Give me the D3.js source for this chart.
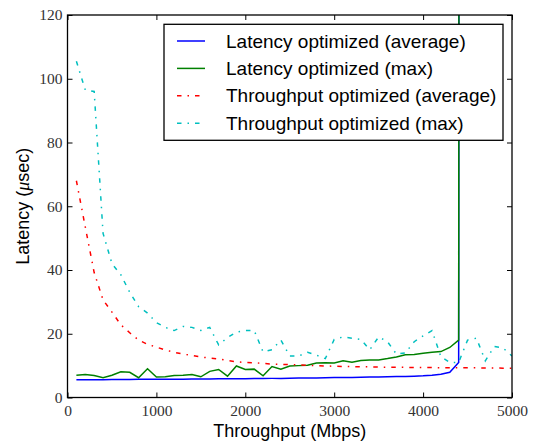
<!DOCTYPE html>
<html>
<head>
<meta charset="utf-8">
<script src="https://cdn.jsdelivr.net/npm/d3@7"></script>
<style>
  body { margin: 0; background: #fff; }
  svg { display: block; }
</style>
</head>
<body>
<div id="main"></div>
<script>
// x values (Mbps) at 100 Mbps steps
var throughputX = d3.range(100, 5001, 100);
var latencyX = d3.range(100, 4401, 100).concat([4410]); // last point is the blow-up past 4400

var latAvg = [5.6, 5.6, 5.6, 5.6, 5.65, 5.65, 5.65, 5.7, 5.7,
    5.7, 5.7, 5.75, 5.75, 5.8, 5.8, 5.8, 5.85, 5.85, 5.9,
    5.9, 5.95, 5.95, 6.0, 6.0, 6.05, 6.1, 6.1, 6.15, 6.2,
    6.25, 6.3, 6.3, 6.35, 6.4, 6.45, 6.5, 6.55, 6.6, 6.7,
    6.8, 7.0, 7.3, 7.9, 11.0, 400];
var latMax = [7.0, 7.2, 6.9, 6.2, 7.0, 8.1, 7.9, 6.2, 9.0,
    6.4, 6.5, 6.9, 7.0, 7.2, 6.5, 8.2, 8.8, 6.7, 9.9,
    8.8, 8.9, 6.8, 9.7, 8.9, 9.9, 10.0, 10.1, 10.8, 10.9,
    10.8, 11.5, 11.1, 11.6, 11.8, 11.8, 12.2, 12.7, 13.4, 13.5,
    13.9, 14.2, 14.4, 15.7, 18.0, 400];
var tputAvg = [68, 53.5, 39.2, 30.6, 26.8, 22.8, 20.3, 18.0, 16.7,
    15.8, 14.9, 14.2, 13.6, 13.2, 12.7, 12.4, 12.1, 11.6, 11.2,
    11.0, 10.9, 10.7, 10.5, 10.4, 10.3, 10.2, 10.1, 10.0, 9.9,
    9.8, 9.75, 9.7, 9.65, 9.6, 9.55, 9.5, 9.5, 9.45, 9.45,
    9.4, 9.4, 9.35, 9.35, 9.3, 9.3, 9.3, 9.25, 9.25, 9.2, 9.2];
var tputMax = [105.5, 96.5, 96, 51.5, 42, 38.5, 33, 28.5, 26.5,
    23.5, 22, 21, 22.3, 22, 21, 22, 16.5, 18.8, 20.5,
    21, 21, 14.3, 15, 18, 13, 13, 14.2, 13.3, 12.2,
    18.2, 19, 18.6, 18.2, 15, 19, 17.5, 13.6, 14, 17.5,
    19.3, 21, 12.8, 11, 11, 18, 18.6, 11.5, 16, 15.5, 13];

var xTicks = [0, 1000, 2000, 3000, 4000, 5000];
var yTicks = [0, 20, 40, 60, 80, 100, 120];

var seriesList = [
    { name: "Latency optimized (average)", xs: latencyX, ys: latAvg, color: "#0000ff", dash: null, width: 1.5 },
    { name: "Latency optimized (max)", xs: latencyX, ys: latMax, color: "#008000", dash: null, width: 1.5 },
    { name: "Throughput optimized (average)", xs: throughputX, ys: tputAvg, color: "#ff0000", dash: "4.5,6,1.5,6", width: 1.5 },
    { name: "Throughput optimized (max)", xs: throughputX, ys: tputMax, color: "#00bfbf", dash: "4.5,6,1.5,6", width: 1.5 }
];

var margin = { top: 15, right: 23, bottom: 47.5, left: 67.5 };
var width = 535 - margin.left - margin.right;
var height = 445 - margin.top - margin.bottom;
var serif = "'Liberation Serif', 'DejaVu Serif', serif";
var sans = "'Liberation Sans', Arial, sans-serif";

var svg = d3.select("#main")
    .append("svg")
    .attr("width", 535)
    .attr("height", 445);
var g = svg.append("g")
    .attr("transform", "translate(" + margin.left + "," + margin.top + ")");

var x = d3.scaleLinear().domain([0, 5000]).range([0, width]);
var y = d3.scaleLinear().domain([0, 120]).range([height, 0]);

g.append("clipPath").attr("id", "plotClip")
    .append("rect").attr("width", width).attr("height", height);

// lines
var line = d3.line()
    .x(function (d) { return x(d[0]); })
    .y(function (d) { return y(d[1]); });

var lines = g.append("g").attr("clip-path", "url(#plotClip)");
seriesList.forEach(function (s) {
    var pts = s.xs.map(function (v, i) { return [v, s.ys[i]]; });
    lines.append("path")
        .attr("d", line(pts))
        .attr("fill", "none")
        .attr("stroke", s.color)
        .attr("stroke-width", s.width)
        .attr("stroke-dasharray", s.dash);
});

// axes, matplotlib classic style: ticks point inwards on all sides
function styleAxis(sel) {
    sel.select(".domain").remove();
    sel.selectAll(".tick line").attr("stroke", "#000").attr("stroke-width", 1);
    sel.selectAll(".tick text").attr("fill", "#333").attr("font-family", serif).attr("font-size", "15.5px");
}

g.append("g")
    .attr("transform", "translate(0," + height + ")")
    .call(d3.axisBottom(x).tickValues(xTicks).tickFormat(d3.format("d")).tickSizeInner(-5).tickSizeOuter(0).tickPadding(7))
    .call(styleAxis);
g.append("g")
    .call(d3.axisLeft(y).tickValues(yTicks).tickFormat(d3.format("d")).tickSizeInner(-5).tickSizeOuter(0).tickPadding(5))
    .call(styleAxis);
g.append("g")
    .call(d3.axisTop(x).tickValues(xTicks).tickSizeInner(-5).tickSizeOuter(0).tickFormat(""))
    .call(styleAxis);
g.append("g")
    .attr("transform", "translate(" + width + ",0)")
    .call(d3.axisRight(y).tickValues(yTicks).tickSizeInner(-5).tickSizeOuter(0).tickFormat(""))
    .call(styleAxis);

g.append("rect")
    .attr("width", width).attr("height", height)
    .attr("fill", "none").attr("stroke", "#000").attr("stroke-width", 1.3);

// axis labels
g.append("text")
    .attr("x", width / 2).attr("y", height + 39)
    .attr("text-anchor", "middle")
    .attr("font-family", sans).attr("font-size", "18px")
    .text("Throughput (Mbps)");

var yl = g.append("text")
    .attr("transform", "translate(-39," + (height / 2) + ") rotate(-90)")
    .attr("text-anchor", "middle")
    .attr("font-family", sans).attr("font-size", "18px");
yl.append("tspan").text("Latency (");
yl.append("tspan").attr("font-family", serif).attr("font-style", "italic").text("μ");
yl.append("tspan").text("sec)");

// legend
var legend = g.append("g").attr("transform", "translate(" + (164 - margin.left) + "," + (24.3 - margin.top) + ")");
legend.append("rect")
    .attr("width", 339).attr("height", 116)
    .attr("fill", "#fff").attr("stroke", "#000").attr("stroke-width", 1.3);
seriesList.forEach(function (s, i) {
    var cy = 16.7 + i * 27.4;
    legend.append("line")
        .attr("x1", 13).attr("x2", 41).attr("y1", cy).attr("y2", cy)
        .attr("stroke", s.color).attr("stroke-width", s.width)
        .attr("stroke-dasharray", s.dash);
    legend.append("text")
        .attr("x", 62).attr("y", cy + 6.6)
        .attr("font-family", sans).attr("font-size", "19px")
        .text(s.name);
});
</script>
</body>
</html>
